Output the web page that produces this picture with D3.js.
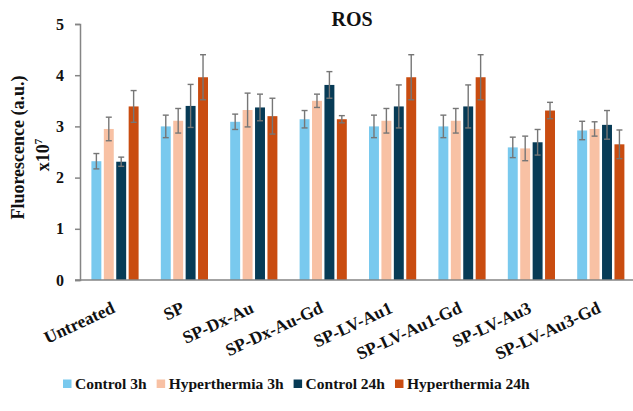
<!DOCTYPE html>
<html><head><meta charset="utf-8">
<script src="https://cdn.jsdelivr.net/npm/d3@7"></script>
<style>
html,body{margin:0;padding:0;background:#fff;}
svg text{font-family:"Liberation Serif","Times New Roman",serif;font-weight:bold;fill:#111;}
</style></head>
<body>
<svg id="chart" width="633" height="411"></svg>
<script>
const categories = ["Untreated","SP","SP-Dx-Au","SP-Dx-Au-Gd","SP-LV-Au1","SP-LV-Au1-Gd","SP-LV-Au3","SP-LV-Au3-Gd"];
const seriesNames = ["Control 3h","Hyperthermia 3h","Control 24h","Hyperthermia 24h"];
const seriesColors = ["#79C9EE","#F8C1A4","#073B56","#C94C10"];
const control3h      = [2.32, 3.00, 3.09, 3.14, 3.00, 3.00, 2.59, 2.92];
const hyper3h        = [2.95, 3.11, 3.32, 3.50, 3.11, 3.11, 2.57, 2.95];
const control24h     = [2.31, 3.40, 3.37, 3.81, 3.39, 3.39, 2.69, 3.03];
const hyper24h       = [3.39, 3.96, 3.20, 3.14, 3.96, 3.96, 3.31, 2.65];
const control3hErr   = [0.15, 0.22, 0.15, 0.17, 0.22, 0.22, 0.20, 0.18];
const hyper3hErr     = [0.23, 0.24, 0.33, 0.13, 0.24, 0.24, 0.24, 0.14];
const control24hErr  = [0.09, 0.42, 0.26, 0.26, 0.42, 0.42, 0.25, 0.28];
const hyper24hErr    = [0.31, 0.44, 0.35, 0.07, 0.44, 0.44, 0.16, 0.28];
const yTicks = [0,1,2,3,4,5];

const values = [control3h, hyper3h, control24h, hyper24h];
const errors = [control3hErr, hyper3hErr, control24hErr, hyper24hErr];

const svg = d3.select("#chart");
const x = d3.scaleBand().domain(categories).range([80.3, 635.5]).paddingInner(0.32).paddingOuter(0.16);
const xs = d3.scaleBand().domain(d3.range(4)).range([0, x.bandwidth()]).paddingInner(0.2);
const y = d3.scaleLinear().domain([0,5]).range([280, 24]);

// y axis
const yAxis = svg.append("g").attr("transform","translate(80,0)")
  .call(d3.axisLeft(y).tickValues(yTicks).tickSize(5).tickPadding(11).tickFormat(d3.format("d")));
yAxis.select(".domain").attr("stroke","#858585").attr("stroke-width",1.5);
yAxis.selectAll(".tick line").attr("stroke","#858585").attr("stroke-width",1.5);
yAxis.selectAll(".tick text").style("font-size","16px").attr("fill","#111");

// bars
const data = [];
categories.forEach((c,i)=>{ for(let s=0;s<4;s++) data.push({c, s, v: values[s][i], e: errors[s][i]}); });
const g = svg.append("g");
g.selectAll("rect.bar").data(data).join("rect").attr("class","bar")
  .attr("x", d=>x(d.c)+xs(d.s)).attr("width", xs.bandwidth())
  .attr("y", d=>y(d.v)).attr("height", d=>y(0)-y(d.v))
  .attr("fill", d=>seriesColors[d.s]);

// error bars
const eg = g.selectAll("g.err").data(data).join("g").attr("class","err")
  .attr("stroke","#767676").attr("stroke-width",1.4);
eg.append("line").attr("x1", d=>x(d.c)+xs(d.s)+xs.bandwidth()/2).attr("x2", d=>x(d.c)+xs(d.s)+xs.bandwidth()/2)
  .attr("y1", d=>y(d.v+d.e)).attr("y2", d=>y(d.v-d.e));
[1,-1].forEach(sg=>{
  eg.append("line").attr("x1", d=>x(d.c)+xs(d.s)+xs.bandwidth()/2-3).attr("x2", d=>x(d.c)+xs(d.s)+xs.bandwidth()/2+3)
    .attr("y1", d=>y(d.v+sg*d.e)).attr("y2", d=>y(d.v+sg*d.e));
});

// x axis
const xAxis = svg.append("g").attr("transform","translate(0,280)")
  .call(d3.axisBottom(x).tickSize(0).tickPadding(0));
xAxis.select(".domain").attr("d","M75,0H633").attr("stroke","#858585").attr("stroke-width",1.5);
xAxis.selectAll(".tick text").style("font-size","17.5px").attr("fill","#111")
  .attr("text-anchor","end").attr("dy",0).attr("y",0)
  .attr("transform","translate(1,32) rotate(-25)");

// title
svg.append("text").attr("x",352).attr("y",26).attr("text-anchor","middle").style("font-size","20px").text("ROS");

// y title
svg.append("text").attr("transform","translate(24,147.5) rotate(-90)").attr("text-anchor","middle")
  .style("font-size","18px").text("Fluorescence (a.u.)");
const t2 = svg.append("text").attr("transform","translate(49,155) rotate(-90)").attr("text-anchor","middle")
  .style("font-size","18px");
t2.append("tspan").text("x10");
t2.append("tspan").attr("dy",-7).style("font-size","11px").text("7");

// legend
const legend = svg.append("g").attr("transform","translate(63,389)");
let cx = 0;
seriesNames.forEach((name,i)=>{
  const it = legend.append("g").attr("transform",`translate(${cx},0)`);
  it.append("rect").attr("x",0).attr("y",-9.5).attr("width",8.5).attr("height",8.5).attr("fill",seriesColors[i]);
  const t = it.append("text").attr("x",12).attr("y",0).style("font-size","15.5px").text(name);
  cx += 12 + t.node().getComputedTextLength() + 10;
});
</script>
</body></html>
